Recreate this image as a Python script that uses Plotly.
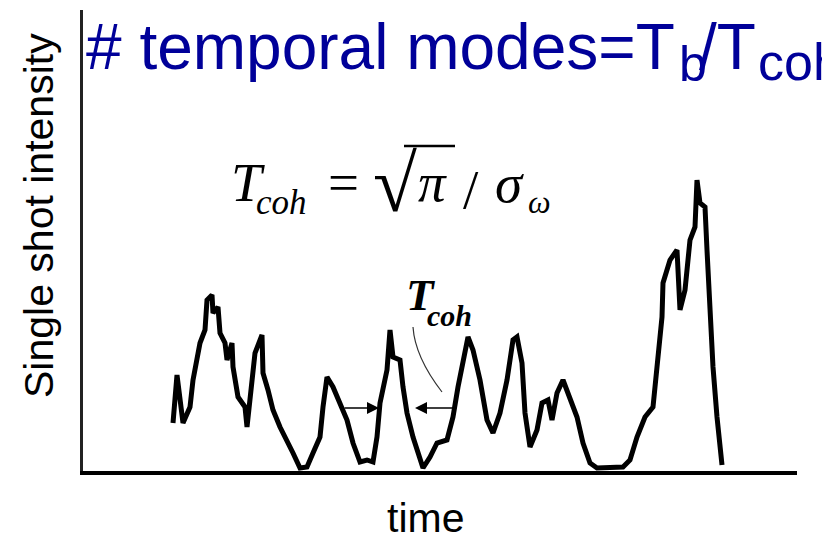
import plotly.graph_objects as go

# ---- data (time in arbitrary units, single-shot intensity in arbitrary units) ----
time = [90, 94, 100, 107, 110, 114, 117, 122, 124, 129,
        130, 135, 137, 142, 144, 149, 150, 155, 162, 164,
        167, 172, 179, 180, 185, 190, 197, 204, 210, 217,
        224, 230, 237, 240, 244, 250, 257, 264, 270, 277,
        284, 290, 294, 297, 304, 307, 310, 317, 320, 324,
        330, 337, 340, 347, 354, 364, 370, 375, 380, 385,
        390, 397, 404, 410, 417, 424, 430, 434, 439, 442,
        447, 454, 459, 465, 469, 474, 480, 485, 494, 500,
        507, 514, 527, 540, 547, 554, 562, 570, 574, 579,
        580, 587, 594, 597, 602, 607, 612, 614, 617, 622,
        624, 627, 630, 634, 637, 639]
intensity = [48, 96, 48, 64, 91, 111, 128, 141, 171, 176,
             158, 164, 138, 128, 111, 128, 104, 74, 64, 44,
             68, 118, 136, 98, 81, 61, 44, 31, 18, 3,
             4, 18, 34, 64, 94, 84, 68, 51, 28, 9,
             11, 9, 34, 68, 101, 141, 114, 111, 84, 58,
             34, 11, 3, 14, 28, 31, 54, 84, 108, 134,
             121, 91, 51, 38, 58, 91, 131, 134, 108, 58,
             24, 41, 68, 71, 51, 78, 91, 78, 54, 28,
             8, 3, 4, 4, 11, 34, 54, 64, 104, 154,
             188, 211, 221, 161, 181, 231, 244, 291, 268, 264,
             221, 154, 104, 54, 18, 6]
x_range = [0, 714]
y_range = [0, 461]

SANS = "Liberation Sans, Arial, sans-serif"
SERIF = "Liberation Serif, Times New Roman, serif"
BLUE = "#000099"

W, H = 822, 540
L, R, T, B = 83, 25, 10, 69
PW, PH = W - L - R, H - T - B


def fx(xp):
    return (xp - L) / PW


def fy(yp):
    return ((H - B) - yp) / PH


def dx(xp):
    return xp - L


def dy(yp):
    return (H - B) - yp


fig = go.Figure()
fig.add_trace(go.Scatter(x=time, y=intensity, mode="lines",
                         line=dict(color="black", width=5),
                         hoverinfo="skip", showlegend=False))

ann = []


def txt(xp, yp, text, size, family, color="black", xanchor="center", **kw):
    ann.append(dict(x=fx(xp), y=fy(yp), xref="paper", yref="paper", text=text,
                    showarrow=False, xanchor=xanchor, yanchor="middle",
                    borderpad=0, borderwidth=0,
                    font=dict(size=size, family=family, color=color), **kw))


# title: # temporal modes = T_b / T_coh
txt(86, 47, "# temporal modes=T", 64, SANS, BLUE, xanchor="left")
txt(679, 64, "b", 50, SANS, BLUE, xanchor="left")
txt(699, 47, "/T", 64, SANS, BLUE, xanchor="left")
txt(758, 62, "coh", 52, SANS, BLUE, xanchor="left")

# formula T_coh = sqrt(pi) / sigma_omega
txt(248, 182, "<i>T</i>", 55, SERIF)
txt(281, 202, "<i>coh</i>", 35, SERIF)
txt(343, 182, "=", 55, SERIF)
txt(395, 184, "√", 80, SERIF)
txt(432, 182, "<i>π</i>", 55, SERIF)
txt(471, 190, "/", 55, SERIF)
txt(509, 184, "<i>σ</i>", 55, SERIF)
txt(539, 202, "<i>ω</i>", 32, SERIF)

# T_coh label near arrows
txt(420, 295, "<b><i>T</i></b>", 45, SERIF)
txt(450, 315, "<b><i>coh</i></b>", 30, SERIF)

# axis labels
txt(39, 216, "Single shot intensity", 41, SANS, textangle=-90)
txt(425, 518, "time", 41, SANS)

# width arrows
ann.append(dict(x=dx(379), y=dy(408), ax=dx(343), ay=dy(408), xref="x", yref="y",
                axref="x", ayref="y", text="", showarrow=True, arrowhead=2,
                arrowsize=1.6, arrowwidth=1.5, arrowcolor="black"))
ann.append(dict(x=dx(415), y=dy(408), ax=dx(457), ay=dy(408), xref="x", yref="y",
                axref="x", ayref="y", text="", showarrow=True, arrowhead=2,
                arrowsize=1.6, arrowwidth=1.5, arrowcolor="black"))

shapes = [
    # pointer from label to pulse
    dict(type="path", xref="x", yref="y",
         path=f"M {dx(413)},{dy(327)} Q {dx(415)},{dy(357)} {dx(442)},{dy(392)}",
         line=dict(color="#333333", width=1.2)),
    # radical overbar
    dict(type="line", xref="x", yref="y", x0=dx(404), x1=dx(455), y0=dy(146), y1=dy(146),
         line=dict(color="black", width=2.5)),
]

fig.update_layout(
    width=W, height=H,
    margin=dict(l=L, r=R, t=T, b=B),
    paper_bgcolor="white", plot_bgcolor="white",
    annotations=ann, shapes=shapes,
    xaxis=dict(range=x_range, showgrid=False, zeroline=False, showticklabels=False,
               ticks="", showline=True, linecolor="black", linewidth=3.5, fixedrange=True),
    yaxis=dict(range=y_range, showgrid=False, zeroline=False, showticklabels=False,
               ticks="", showline=True, linecolor="#222222", linewidth=3, fixedrange=True),
)

fig.write_html("out.html")
